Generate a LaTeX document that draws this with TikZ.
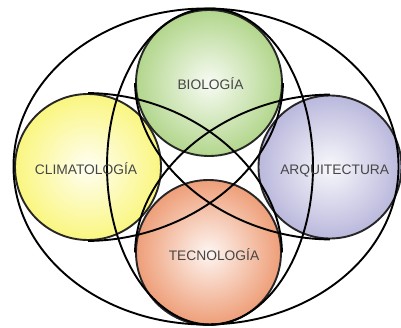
\documentclass[tikz,border=0pt]{standalone}
\usepackage{fontspec}
\setmainfont{Liberation Sans}
\definecolor{greenC}{RGB}{178,214,140}
\definecolor{yellowC}{RGB}{250,246,128}
\definecolor{purpleC}{RGB}{186,184,220}
\definecolor{orangeC}{RGB}{238,158,120}
\definecolor{txtC}{RGB}{70,70,70}
\begin{document}
\begin{tikzpicture}[x=1pt,y=-1pt,
  ring/.style={circle, inner sep=0pt, draw=black!85, line width=1.9pt, minimum size=#1},
  curve/.style={draw=black, line width=1.9pt},
  lbl/.style={anchor=base, text=txtC, font=\fontsize{13.8}{16}\selectfont, inner sep=0pt}]
\useasboundingbox (0,0) rectangle (401,327);
% coloured circles
\node[ring=146pt, inner color=yellowC!10!white, outer color=yellowC] (cli) at (88,167) {};
\node[ring=146pt, inner color=greenC!10!white, outer color=greenC] (bio) at (209,83) {};
\node[ring=145pt, inner color=orangeC!10!white, outer color=orangeC] (tec) at (208.5,252.5) {};
\node[ring=143pt, inner color=purpleC!10!white, outer color=purpleC] (arq) at (330,167) {};
% ellipses
\draw[curve] (206,166.5) ellipse [x radius=192.5pt, y radius=158pt];
\draw[curve] (210,166.5) ellipse [x radius=103pt, y radius=158pt];
% crossing arcs
\draw[curve] (cli.north) .. controls (190.3,94) and (281,168.5) .. (tec.east);
\draw[curve] (arq.north) .. controls (227.2,95.5) and (136,169.3) .. (tec.west);
\draw[curve] (cli.south) .. controls (190.8,240) and (282,166.2) .. (bio.east);
\draw[curve] (arq.south) .. controls (227.2,238.5) and (136,165.4) .. (bio.west);
% labels
\node[lbl] (tbio) at (210.5,89.5) {BIOLOGÍA};
\node[lbl] (tcli) at (86,174) {CLIMATOLOGÍA};
\node[lbl] (tarq) at (334.7,174) {ARQUITECTURA};
\node[lbl] (ttec) at (214,260) {TECNOLOGÍA};
\end{tikzpicture}
\end{document}
